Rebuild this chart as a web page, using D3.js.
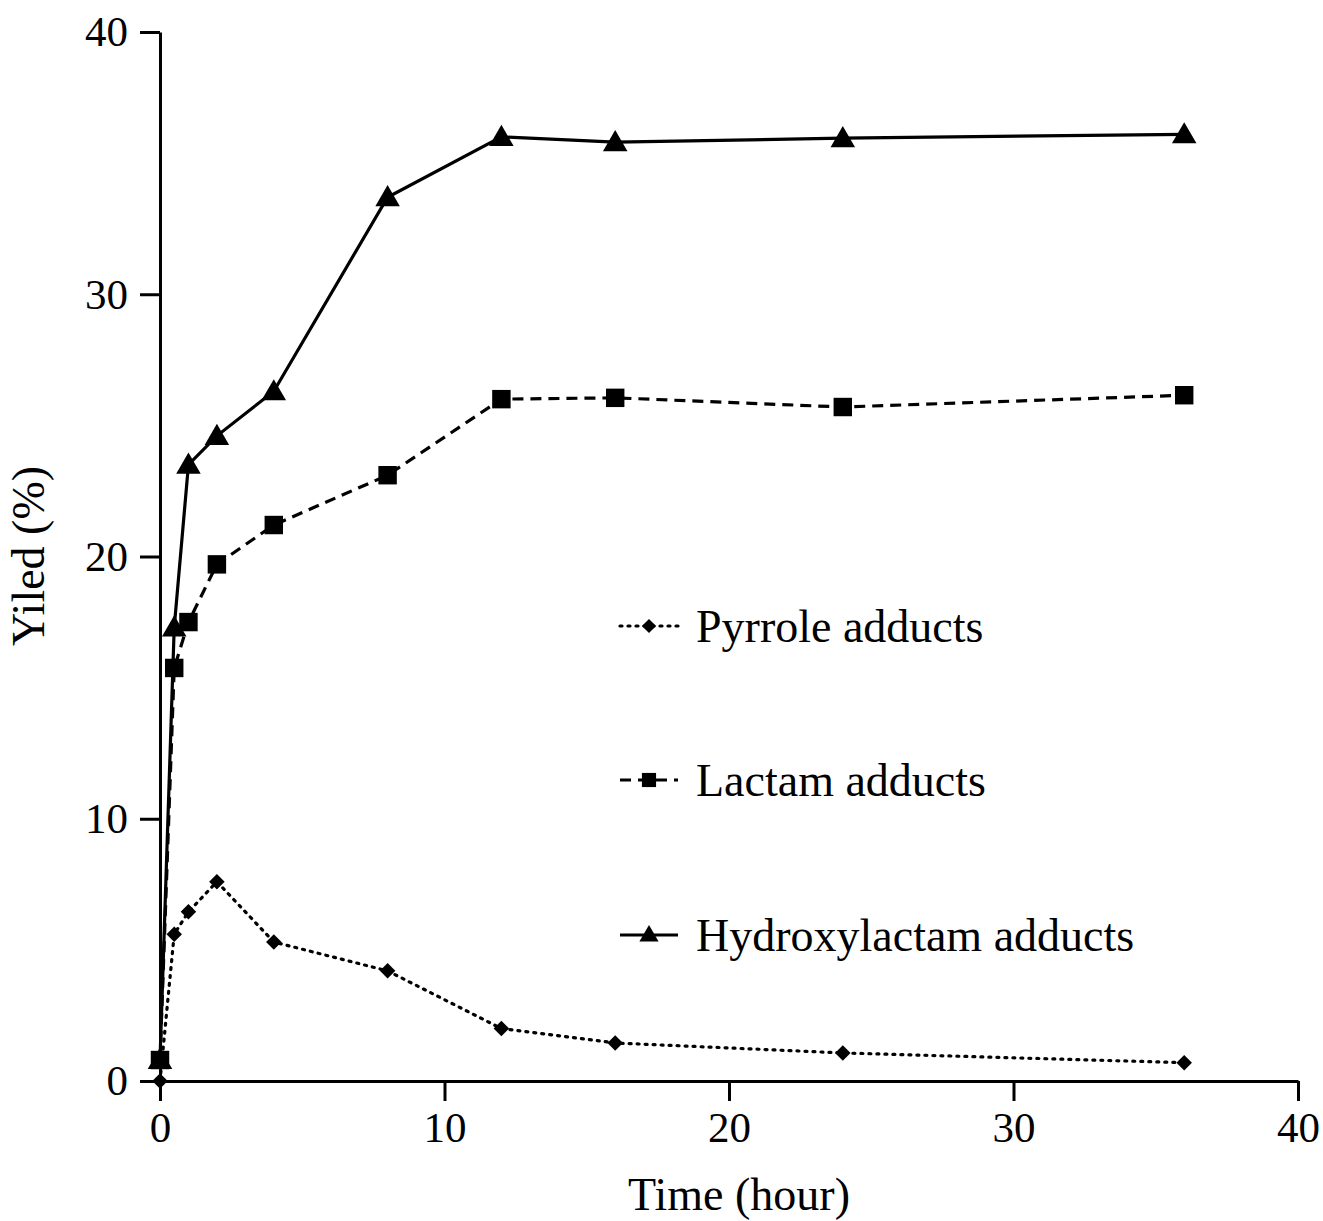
<!DOCTYPE html>
<html><head><meta charset="utf-8">
<script src="https://cdn.jsdelivr.net/npm/d3@7"></script>
<style>body{margin:0;background:#fff}text{font-family:"Liberation Serif","Times New Roman",serif;fill:#000}</style>
</head><body><svg id="c" width="1323" height="1221"></svg>
<script>
const times = [0, 0.5, 1, 2, 4, 8, 12, 16, 24, 36];
const pyrrole = [0, 5.6, 6.45, 7.6, 5.3, 4.2, 2.0, 1.45, 1.07, 0.7];
const lactam = [0.8, 15.75, 17.5, 19.7, 21.2, 23.1, 26.0, 26.05, 25.7, 26.15];
const hydroxylactam = [0.8, 17.3, 23.5, 24.6, 26.3, 33.7, 36.0, 35.8, 35.95, 36.1];
const xTicks = [0, 10, 20, 30, 40];
const yTicks = [0, 10, 20, 30, 40];
const seriesNames = ["Pyrrole adducts", "Lactam adducts", "Hydroxylactam adducts"];

const svg = d3.select("#c");
const x = d3.scaleLinear().domain([0, 40]).range([160, 1298]);
const y = d3.scaleLinear().domain([0, 40]).range([1081, 32]);

const series = [
  {name: seriesNames[0], vals: pyrrole, dash: "2,6", sym: d3.symbolSquare, rot: 45, size: 120, lsize: 100, cap: "round"},
  {name: seriesNames[1], vals: lactam, dash: "11,7", sym: d3.symbolSquare, rot: 0, size: 340, lsize: 200, cap: "butt"},
  {name: seriesNames[2], vals: hydroxylactam, dash: null, sym: d3.symbolTriangle, rot: 0, size: 260, lsize: 160, cap: "butt"}
];

// axes
const xa = svg.append("g").attr("transform", "translate(0,1081)")
  .call(d3.axisBottom(x).tickValues(xTicks).tickSize(20).tickSizeOuter(0).tickPadding(10));
const ya = svg.append("g").attr("transform", "translate(160,0)")
  .call(d3.axisLeft(y).tickValues(yTicks).tickSize(20).tickSizeOuter(0).tickPadding(12));
[xa, ya].forEach(a => {
  a.selectAll("path.domain").attr("stroke", "#000").attr("stroke-width", 3);
  a.selectAll(".tick line").attr("stroke", "#000").attr("stroke-width", 3);
  a.selectAll(".tick text").style("font-size", "43px").style("font-family", "Liberation Serif");
});

const line = d3.line().x(d => x(d[0])).y(d => y(d[1]));
series.forEach(s => {
  const pts = times.map((t, i) => [t, s.vals[i]]);
  svg.append("path").attr("d", line(pts)).attr("fill", "none").attr("stroke", "#000")
    .attr("stroke-width", 3.2).attr("stroke-dasharray", s.dash).attr("stroke-linecap", s.cap);
});
series.forEach(s => {
  const sy = d3.symbol().type(s.sym).size(s.size);
  svg.append("g").selectAll("path").data(times.map((t, i) => [t, s.vals[i]])).join("path")
    .attr("d", sy).attr("fill", "#000")
    .attr("transform", d => `translate(${x(d[0])},${y(d[1]) + (s.sym === d3.symbolTriangle ? 2 : 0)}) rotate(${s.rot})`);
});

// legend
const legY = [626, 780, 935];
series.forEach((s, i) => {
  const g = svg.append("g").attr("transform", `translate(620,${legY[i]})`);
  g.append("line").attr("x1", 0).attr("x2", 58).attr("y1", 0).attr("y2", 0)
    .attr("stroke", "#000").attr("stroke-width", 3.2).attr("stroke-dasharray", s.dash).attr("stroke-linecap", s.cap);
  g.append("path").attr("d", d3.symbol().type(s.sym).size(s.lsize)).attr("fill", "#000")
    .attr("transform", `translate(29,${s.sym === d3.symbolTriangle ? 1 : 0}) rotate(${s.rot})`);
  g.append("text").attr("x", 76).attr("y", 0).attr("dy", "0.35em").style("font-size", "46px").text(s.name);
});

// axis labels
svg.append("text").attr("x", 739).attr("y", 1210).attr("text-anchor", "middle").style("font-size", "46px").text("Time (hour)");
svg.append("text").attr("transform", "translate(44,556) rotate(-90)").attr("text-anchor", "middle").style("font-size", "46px").text("Yiled (%)");
</script></body></html>
